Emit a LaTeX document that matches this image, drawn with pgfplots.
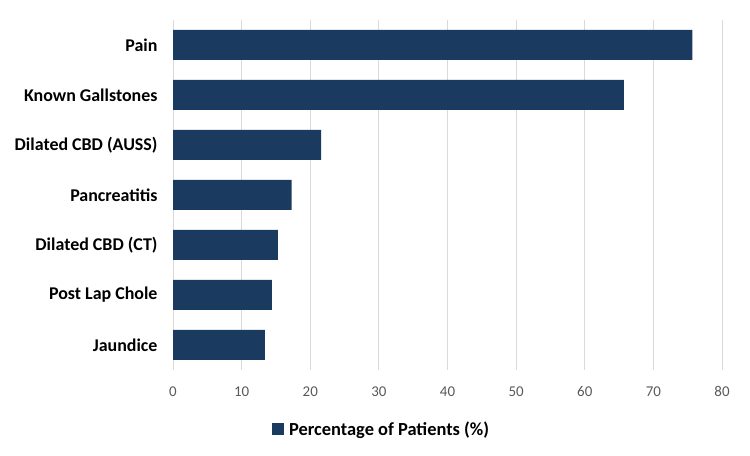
\documentclass[border=0pt]{standalone}
\usepackage{pgfplots}
\pgfplotsset{compat=1.18}
\usepackage{fontspec}
\setmainfont{Carlito}
\definecolor{barc}{HTML}{1B3A5F}
\definecolor{gridc}{HTML}{D9D9D9}
\definecolor{tickc}{HTML}{595959}
\begin{document}
\begin{tikzpicture}[x=1bp,y=1bp]
\useasboundingbox (0,0) rectangle (750,456);
\begin{axis}[
 at={(173bp,86bp)}, anchor=south west,
 scale only axis, width=549bp, height=350bp,
 xmin=0, xmax=80, ymin=-0.5, ymax=6.5,
 xtick={0,10,...,80},
 ytick={0,...,6},
 yticklabels={Jaundice,Post Lap Chole,Dilated CBD (CT),Pancreatitis,Dilated CBD (AUSS),Known Gallstones,Pain},
 y tick label style={font=\bfseries\fontsize{18}{20}\selectfont, black, xshift=-12bp},
 x tick label style={font=\fontsize{15}{17}\selectfont, color=tickc, yshift=-13bp},
 /pgf/number format/assume math mode=true,
 xmajorgrids, grid style={gridc, line width=1bp},
 axis line style={draw=none},
 major tick length=0pt,
 xbar, bar width=30bp, bar shift=0pt,
 legend style={draw=none, fill=none, font=\bfseries\fontsize{18.5}{20}\selectfont, at={(0.38,-0.169)}, anchor=center, inner sep=0pt},
 legend image code/.code={\fill[barc] (0bp,-6bp) rectangle (12bp,6bp); \path (15bp,0bp) -- (15bp,0bp);},
]
\addplot[fill=barc, draw=none] coordinates {(13.4,0) (14.4,1) (15.3,2) (17.3,3) (21.6,4) (65.7,5) (75.7,6)};
\legend{Percentage of Patients (\%)}
\end{axis}
\end{tikzpicture}
\end{document}
